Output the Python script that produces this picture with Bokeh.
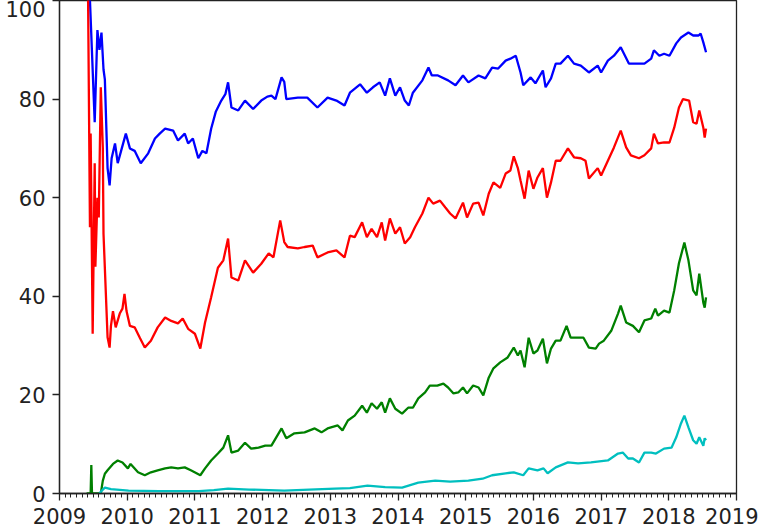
from bokeh.plotting import figure
from bokeh.models import FixedTicker, Range1d
from bokeh.embed import file_html
from bokeh.resources import INLINE

# ---- data (decimal years, index values) ----
blue_x = [2009.42, 2009.45, 2009.52, 2009.56, 2009.59, 2009.62, 2009.65, 2009.67, 2009.71, 2009.74,
          2009.77, 2009.82, 2009.86, 2009.91, 2009.98, 2010.04, 2010.11, 2010.20, 2010.31, 2010.41,
          2010.48, 2010.56, 2010.68, 2010.75, 2010.85, 2010.90, 2010.97, 2011.05, 2011.11, 2011.17,
          2011.24, 2011.31, 2011.39, 2011.45, 2011.49, 2011.54, 2011.64, 2011.74, 2011.86, 2011.98,
          2012.07, 2012.13, 2012.19, 2012.28, 2012.32, 2012.35, 2012.52, 2012.66, 2012.81, 2012.96,
          2013.09, 2013.21, 2013.29, 2013.44, 2013.54, 2013.63, 2013.73, 2013.81, 2013.88, 2013.96,
          2014.03, 2014.10, 2014.16, 2014.22, 2014.36, 2014.45, 2014.50, 2014.59, 2014.74, 2014.85,
          2014.96, 2015.04, 2015.19, 2015.29, 2015.39, 2015.48, 2015.59, 2015.66, 2015.74, 2015.81,
          2015.85, 2015.96, 2016.03, 2016.14, 2016.18, 2016.26, 2016.33, 2016.40, 2016.51, 2016.60,
          2016.70, 2016.82, 2016.95, 2017.00, 2017.10, 2017.19, 2017.29, 2017.41, 2017.49, 2017.64,
          2017.74, 2017.78, 2017.86, 2017.93, 2018.01, 2018.11, 2018.18, 2018.29, 2018.36, 2018.44,
          2018.47, 2018.51, 2018.55]
blue_y = [104, 100, 75.3, 94, 90, 93.5, 86, 84, 66, 62.5,
          68, 71, 67, 69.5, 73, 70, 69.5, 67, 69, 72,
          73, 74, 73.6, 71.6, 73, 71, 72, 68, 69.5, 69,
          74, 77.5, 79.7, 81, 83.4, 78.3, 77.7, 79.7, 78, 79.7,
          80.5, 80.7, 80, 84.4, 83.5, 80, 80.3, 80.3, 78.3, 80.3,
          79.7, 78.7, 81.3, 83, 81.3, 82.4, 83.4, 80.7, 84.2, 80.7,
          82.4, 79.7, 78.7, 81.3, 83.8, 86.4, 84.8, 84.8, 83.8, 82.8,
          84.8, 83.4, 84.8, 84.2, 86.4, 86.2, 87.8, 88.2, 88.8, 85.4,
          82.8, 84.4, 83.2, 85.8, 82.4, 84.2, 87.2, 87.2, 88.8, 87.2,
          86.8, 85.4, 86.8, 85.4, 87.8, 88.8, 90.5, 87.2, 87.2, 87.2,
          88.2, 89.9, 88.8, 89.2, 88.8, 91.3, 92.5, 93.5, 92.9, 92.9,
          93.3, 91.5, 89.5]

red_x = [2009.42, 2009.45, 2009.46, 2009.47, 2009.49, 2009.52, 2009.53, 2009.56, 2009.58, 2009.61,
         2009.64, 2009.65, 2009.71, 2009.74, 2009.76, 2009.79, 2009.83, 2009.89, 2009.93, 2009.96,
         2009.99, 2010.04, 2010.11, 2010.19, 2010.26, 2010.35, 2010.45, 2010.56, 2010.65, 2010.75,
         2010.82, 2010.90, 2011.00, 2011.08, 2011.15, 2011.24, 2011.34, 2011.42, 2011.49, 2011.54,
         2011.64, 2011.74, 2011.86, 2011.98, 2012.09, 2012.16, 2012.26, 2012.32, 2012.37, 2012.52,
         2012.62, 2012.74, 2012.81, 2012.96, 2013.09, 2013.21, 2013.29, 2013.36, 2013.47, 2013.54,
         2013.61, 2013.69, 2013.76, 2013.81, 2013.88, 2013.96, 2014.03, 2014.10, 2014.18, 2014.25,
         2014.36, 2014.45, 2014.52, 2014.62, 2014.70, 2014.77, 2014.85, 2014.96, 2015.02, 2015.11,
         2015.19, 2015.26, 2015.34, 2015.41, 2015.51, 2015.59, 2015.66, 2015.71, 2015.77, 2015.81,
         2015.87, 2015.93, 2016.00, 2016.06, 2016.14, 2016.20, 2016.26, 2016.33, 2016.40, 2016.51,
         2016.60, 2016.70, 2016.77, 2016.82, 2016.95, 2017.00, 2017.10, 2017.19, 2017.29, 2017.37,
         2017.44, 2017.56, 2017.64, 2017.74, 2017.78, 2017.84, 2017.93, 2018.01, 2018.08, 2018.15,
         2018.21, 2018.30, 2018.36, 2018.41, 2018.45, 2018.51, 2018.53, 2018.55]
red_y = [104, 54, 73, 60, 32.4, 67, 46, 60, 56, 82.4,
         70, 52.7, 31.7, 29.6, 34, 37, 33.7, 36.5, 37.5, 40.5,
         37, 34, 33.7, 31.5, 29.6, 31, 33.7, 35.7, 35, 34.5,
         35.5, 33.4, 32.4, 29.4, 34.7, 39.8, 45.8, 47.3, 51.7, 43.8,
         43.2, 47.3, 44.8, 46.6, 48.7, 47.9, 55.4, 51, 50, 49.7,
         50, 50.3, 47.9, 48.9, 49.3, 47.9, 52.3, 52, 55, 52,
         53.7, 52, 55, 51.3, 55.8, 52.7, 54, 50.7, 52, 54,
         56.8, 60, 58.8, 59.4, 58, 56.8, 55.8, 59, 56, 58.8,
         59, 56.4, 60.8, 63.1, 62, 64.9, 65.5, 68.4, 66, 63.5,
         59.8, 65.5, 61.8, 64.1, 66, 60, 63.1, 67.5, 67.5, 70,
         68.2, 68, 67.5, 63.9, 66, 64.5, 67.5, 70.2, 73.6, 70.2,
         68.6, 68, 68.6, 70, 73, 71, 71.2, 71.2, 74.2, 78.3,
         80, 79.7, 75.3, 75, 77.7, 74.2, 72.2, 74]

green_x = [2009.40, 2009.46, 2009.47, 2009.48, 2009.61, 2009.64, 2009.67, 2009.71, 2009.79, 2009.86,
           2009.93, 2010.01, 2010.05, 2010.16, 2010.26, 2010.35, 2010.45, 2010.56, 2010.65, 2010.75,
           2010.85, 2010.94, 2011.08, 2011.15, 2011.24, 2011.34, 2011.42, 2011.49, 2011.54, 2011.64,
           2011.74, 2011.83, 2011.94, 2012.04, 2012.13, 2012.28, 2012.35, 2012.47, 2012.62, 2012.77,
           2012.87, 2012.96, 2013.11, 2013.18, 2013.26, 2013.36, 2013.47, 2013.54, 2013.61, 2013.69,
           2013.76, 2013.81, 2013.88, 2013.96, 2014.06, 2014.15, 2014.22, 2014.30, 2014.40, 2014.47,
           2014.58, 2014.67, 2014.74, 2014.82, 2014.89, 2014.96, 2015.02, 2015.11, 2015.19, 2015.26,
           2015.34, 2015.41, 2015.51, 2015.62, 2015.71, 2015.77, 2015.81, 2015.87, 2015.93, 2016.00,
           2016.06, 2016.14, 2016.20, 2016.26, 2016.33, 2016.40, 2016.49, 2016.55, 2016.66, 2016.74,
           2016.82, 2016.92, 2016.97, 2017.04, 2017.15, 2017.25, 2017.29, 2017.37, 2017.47, 2017.56,
           2017.64, 2017.74, 2017.80, 2017.84, 2017.93, 2018.01, 2018.08, 2018.15, 2018.23, 2018.29,
           2018.36, 2018.41, 2018.45, 2018.51, 2018.53, 2018.55]
green_y = [0, 0, 5.8, 0, 0, 2.6, 4, 4.7, 6, 6.7,
           6.3, 5.1, 6, 4.3, 3.7, 4.3, 4.7, 5.1, 5.3, 5.1,
           5.3, 4.7, 3.7, 5.1, 6.7, 8.1, 9.3, 11.8, 8.3, 8.7,
           10.3, 9.1, 9.3, 9.7, 9.7, 13.2, 11.2, 12.2, 12.4, 13.2,
           12.4, 13.2, 13.8, 12.8, 14.8, 15.8, 17.8, 16.4, 18.3, 17.2,
           18.5, 16.4, 19.3, 17.2, 16.2, 17.4, 17.4, 19.3, 20.5, 21.9,
           21.9, 22.3, 21.5, 20.3, 20.5, 21.5, 20.3, 21.9, 21.5, 19.9,
           23.5, 25.4, 26.6, 27.6, 29.6, 28, 29, 25.6, 31.6, 28.4,
           29, 31.4, 26.4, 29.4, 31, 31, 34, 31.6, 31.6, 31.6,
           29.6, 29.4, 30.4, 31, 33, 36.5, 38.1, 34.7, 34, 32.7,
           35.1, 35.5, 37.5, 36.1, 37.1, 36.7, 41.2, 46.7, 50.9, 47.3,
           41.2, 40.2, 44.6, 38.7, 37.7, 39.8]

cyan_x = [2009.59, 2009.62, 2009.67, 2009.76, 2010.02, 2010.47, 2011.06, 2011.28, 2011.49, 2011.80,
          2012.32, 2012.69, 2013.07, 2013.29, 2013.55, 2013.81, 2014.06, 2014.30, 2014.55, 2014.77,
          2015.04, 2015.25, 2015.39, 2015.59, 2015.71, 2015.85, 2015.93, 2016.06, 2016.15, 2016.21,
          2016.33, 2016.51, 2016.66, 2016.85, 2017.10, 2017.25, 2017.32, 2017.40, 2017.47, 2017.56,
          2017.64, 2017.74, 2017.81, 2017.93, 2018.04, 2018.11, 2018.18, 2018.23, 2018.29, 2018.36,
          2018.41, 2018.45, 2018.51, 2018.53, 2018.55]
cyan_y = [0, 0.5, 1.2, 0.9, 0.6, 0.5, 0.5, 0.7, 1.0, 0.8,
          0.6, 0.8, 1.0, 1.1, 1.6, 1.3, 1.2, 2.2, 2.6, 2.4,
          2.6, 3.0, 3.7, 4.1, 4.3, 3.7, 5.1, 4.7, 5.1, 4.1,
          5.3, 6.3, 6.1, 6.3, 6.7, 8.1, 8.3, 7.1, 7.1, 6.3,
          8.3, 8.3, 8.1, 9.1, 9.3, 11.4, 14.2, 15.8, 13.4, 10.8,
          10.1, 11.4, 9.7, 11.2, 10.8]

year_ticks = [2009, 2010, 2011, 2012, 2013, 2014, 2015, 2016, 2017, 2018, 2019]
year_labels = ["2009", "2010", "2011", "2012", "2013", "2014", "2015", "2016", "2017", "2018", "2019"]
y_ticks = [0, 20, 40, 60, 80, 100]

p = figure(width=758, height=530, output_backend="svg", toolbar_location=None,
           x_range=Range1d(2009, 2019), y_range=Range1d(0, 100),
           min_border_left=59, min_border_right=22, min_border_top=0, min_border_bottom=37)
p.background_fill_color = "white"
p.border_fill_color = "white"
p.outline_line_color = "#222222"
p.outline_line_width = 1.3
p.xgrid.visible = False
p.ygrid.visible = False

lw = 2.3
p.line(blue_x, blue_y, line_color="#0000ff", line_width=lw)
p.line(red_x, red_y, line_color="#ff0000", line_width=lw)
p.line(green_x, green_y, line_color="#008000", line_width=lw)
p.line(cyan_x, cyan_y, line_color="#00bfbf", line_width=lw)

minor = [y + m / 12 for y in year_ticks[:-1] for m in range(1, 12)]
p.xaxis.ticker = FixedTicker(ticks=year_ticks, minor_ticks=minor)
p.xaxis.major_label_overrides = {t: l for t, l in zip(year_ticks, year_labels)}
p.yaxis.ticker = FixedTicker(ticks=y_ticks)

for ax in (p.xaxis, p.yaxis):
    ax.axis_line_color = "#222222"
    ax.axis_line_width = 1.3
    ax.major_tick_line_color = "#222222"
    ax.major_tick_line_width = 1.3
    ax.major_tick_in = 0
    ax.major_tick_out = 7
    ax.minor_tick_in = 0
    ax.minor_tick_out = 4
    ax.minor_tick_line_color = "#222222"
    ax.major_label_text_font = "DejaVu Sans"
    ax.major_label_text_font_size = "21px"
    ax.major_label_text_color = "#222222"
p.yaxis.minor_tick_line_color = None
p.xaxis.major_label_standoff = 7
p.yaxis.major_label_standoff = 7

open("out.html", "w").write(file_html(p, INLINE))
